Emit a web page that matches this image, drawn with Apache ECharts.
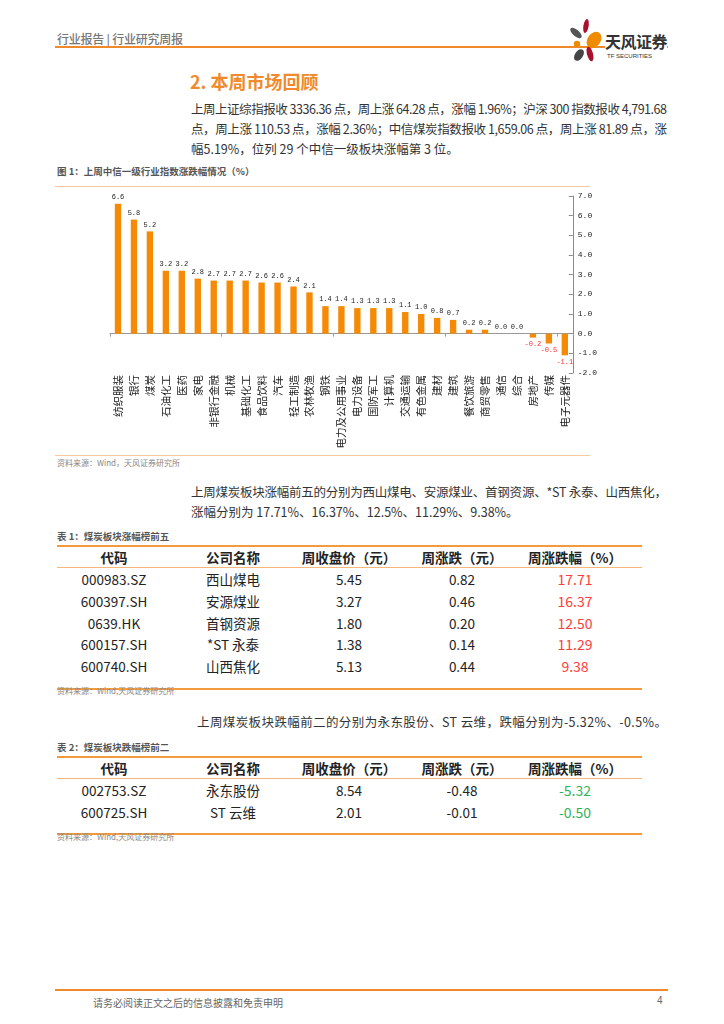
<!DOCTYPE html>
<html><head><meta charset="utf-8">
<script src="https://cdn.jsdelivr.net/npm/echarts@6/dist/echarts.min.js"></script>
<style>
html,body{margin:0;padding:0;background:#fff}
body{width:724px;height:1024px;position:relative;overflow:hidden;font-family:"Noto Sans CJK SC",sans-serif;color:#333}
.a{position:absolute;white-space:nowrap}
.fit{display:inline-block;white-space:nowrap}
.hl{position:absolute;height:0}
</style></head>
<body>
<script>
// ---------- chart data ----------
const categories = ["纺织服装","银行","煤炭","石油化工","医药","家电","非银行金融","机械","基础化工","食品饮料","汽车","轻工制造","农林牧渔","钢铁","电力及公用事业","电力设备","国防军工","计算机","交通运输","有色金属","建材","建筑","餐饮旅游","商贸零售","通信","综合","房地产","传媒","电子元器件"];
const weeklyChange = [6.6,5.8,5.2,3.2,3.2,2.8,2.7,2.7,2.7,2.6,2.6,2.4,2.1,1.4,1.4,1.3,1.3,1.3,1.1,1.0,0.8,0.7,0.2,0.2,0.0,0.0,-0.2,-0.5,-1.1];
const yTickMin = -2, yTickMax = 7, yTickStep = 1;

// ---------- table data ----------
const tableHeader = ["代码","公司名称","周收盘价（元）","周涨跌（元）","周涨跌幅（%）"];
const gainCodes = ["000983.SZ","600397.SH","0639.HK","600157.SH","600740.SH"];
const gainNames = ["西山煤电","安源煤业","首钢资源","*ST 永泰","山西焦化"];
const gainClose = ["5.45","3.27","1.80","1.38","5.13"];
const gainChg = ["0.82","0.46","0.20","0.14","0.44"];
const gainPct = ["17.71","16.37","12.50","11.29","9.38"];
const lossCodes = ["002753.SZ","600725.SH"];
const lossNames = ["永东股份","ST 云维"];
const lossClose = ["8.54","2.01"];
const lossChg = ["-0.48","-0.01"];
const lossPct = ["-5.32","-0.50"];
</script>

<!-- header -->
<div class="a" style="left:57px;top:30px;font-size:12px;color:#777;font-weight:500"><span class="fit" data-w="126">行业报告 | 行业研究周报</span></div>
<div class="hl" style="left:55px;top:46px;width:613px;border-top:2px solid #F0892A"></div>
<svg class="a" style="left:566px;top:18px" width="40" height="46" viewBox="0 0 40 46">
  <ellipse cx="20" cy="8" rx="2.6" ry="7" fill="#A8102E" transform="rotate(10 20 8)"/>
  <ellipse cx="10" cy="15" rx="3.2" ry="7" fill="#555" transform="rotate(-50 10 15)"/>
  <ellipse cx="28" cy="22" rx="6.5" ry="9" fill="#F08A00" transform="rotate(35 28 22)"/>
  <circle cx="11" cy="26" r="3.2" fill="#F08A00"/>
  <ellipse cx="13" cy="37" rx="4" ry="6.5" fill="#444" transform="rotate(35 13 37)"/>
  <ellipse cx="24" cy="36" rx="3" ry="7.5" fill="#A8102E" transform="rotate(-15 24 36)"/>
</svg>
<div class="a" style="left:605px;top:33px;font-size:16px;line-height:17px;font-weight:700;color:#333;letter-spacing:-0.5px;background:#fff">天风证券</div>
<div class="a" style="left:607px;top:53px;font-size:6px;line-height:7px;color:#333;font-family:'Liberation Sans'">TF SECURITIES</div>

<!-- section title -->
<div class="a" style="left:190px;top:68px;font-size:18px;font-weight:700;color:#F08A2C">2. 本周市场回顾</div>

<!-- paragraph 1 -->
<div class="a" style="left:191px;top:99px;font-size:12.5px;color:#333;line-height:20px">
  <div><span class="fit" data-w="476">上周上证综指报收 3336.36 点，周上涨 64.28 点，涨幅 1.96%；沪深 300 指数报收 4,791.68</span></div>
  <div><span class="fit" data-w="476">点，周上涨 110.53 点，涨幅 2.36%；中信煤炭指数报收 1,659.06 点，周上涨 81.89 点，涨</span></div>
  <div><span>幅5.19%，位列 29 个中信一级板块涨幅第 3 位。</span></div>
</div>

<!-- figure 1 -->
<div class="a" style="left:57px;top:164px;font-size:9.5px;font-weight:700;color:#555">图 1：上周中信一级行业指数涨跌幅情况（%）</div>
<div class="hl" style="left:55px;top:186px;width:535px;border-top:1.5px solid #F7C9A1"></div>
<div id="chart" class="a" style="left:55px;top:188px;width:545px;height:267px"></div>
<div class="hl" style="left:55px;top:455px;width:535px;border-top:1.5px solid #F7C9A1"></div>
<div class="a" style="left:57px;top:457px;font-size:8px;color:#888">资料来源：Wind，天风证券研究所</div>

<!-- paragraph 2 -->
<div class="a" style="left:191px;top:482px;font-size:12.5px;color:#333;line-height:20px">
  <div><span class="fit" data-w="476">上周煤炭板块涨幅前五的分别为西山煤电、安源煤业、首钢资源、*ST 永泰、山西焦化，</span></div>
  <div><span>涨幅分别为 17.71%、16.37%、12.5%、11.29%、9.38%。</span></div>
</div>

<div class="a" style="left:57px;top:529px;font-size:9.5px;font-weight:700;color:#555">表 1：煤炭板块涨幅榜前五</div>
<div id="t1"></div>
<div class="a" style="left:57px;top:685px;font-size:8px;color:#888">资料来源：Wind,天风证券研究所</div>

<!-- paragraph 3 -->
<div class="a" style="left:197px;top:712px;font-size:12.5px;color:#333;line-height:20px"><span class="fit" data-w="470">上周煤炭板块跌幅前二的分别为永东股份、ST 云维，跌幅分别为-5.32%、-0.5%。</span></div>

<div class="a" style="left:57px;top:740px;font-size:9.5px;font-weight:700;color:#555">表 2：煤炭板块跌幅榜前二</div>
<div id="t2"></div>
<div class="a" style="left:57px;top:831px;font-size:8px;color:#888">资料来源：Wind,天风证券研究所</div>

<!-- footer -->
<div class="hl" style="left:55px;top:989px;width:613px;border-top:2px solid #F0892A"></div>
<div class="a" style="left:93px;top:995px;font-size:10px;color:#666">请务必阅读正文之后的信息披露和免责申明</div>
<div class="a" style="left:657px;top:995px;font-size:10px;color:#666;font-family:'Liberation Sans'">4</div>

<script>
// fit justified lines
document.querySelectorAll('.fit[data-w]').forEach(function(el){
  var target = +el.getAttribute('data-w');
  var w = el.getBoundingClientRect().width;
  var n = el.textContent.length;
  if (n > 1) el.style.letterSpacing = ((target - w) / (n - 1)) + 'px';
});

// tables
const colCenters = [114, 233, 349, 462, 575];
function buildTable(id, top, rows, pctColor){
  const host = document.getElementById(id);
  let html = '';
  const left = 57, width = 585;
  html += '<div class="hl" style="left:'+left+'px;top:'+top+'px;width:'+width+'px;border-top:2px solid #F39A3C"></div>';
  const hy = top + 12;
  tableHeader.forEach(function(h,i){
    html += '<div class="a" style="left:'+(colCenters[i]-80)+'px;width:160px;text-align:center;top:'+(hy-10)+'px;font-size:13.5px;font-weight:700;color:#222;line-height:20px">'+h+'</div>';
  });
  const lineY = top + 22;
  html += '<div class="hl" style="left:'+left+'px;top:'+lineY+'px;width:'+width+'px;border-top:1.5px solid #F7B77A"></div>';
  const rowH = 21.8;
  rows.forEach(function(r,ri){
    const cy = lineY + 12 + ri*rowH;
    r.forEach(function(c,ci){
      let style = 'font-size:13.5px;color:#222;font-family:"Liberation Mono","Noto Sans CJK SC",monospace';
      if (ci===1) style = 'font-size:13.5px;color:#222;font-family:"Noto Sans CJK SC";letter-spacing:1px';
      if (ci===4) style = 'font-size:14px;color:'+pctColor+';font-family:"Liberation Sans"';
      html += '<div class="a" style="left:'+(colCenters[ci]-80)+'px;width:160px;text-align:center;top:'+(cy-10)+'px;line-height:20px;'+style+'">'+c+'</div>';
    });
  });
  const by = lineY + 12 + rows.length*rowH - 0.5;
  html += '<div class="hl" style="left:'+left+'px;top:'+by+'px;width:'+width+'px;border-top:2px solid #F39A3C"></div>';
  host.innerHTML = html;
}
buildTable('t1', 545, gainCodes.map(function(c,i){return [c,gainNames[i],gainClose[i],gainChg[i],gainPct[i]];}), '#FF3B3B');
buildTable('t2', 756, lossCodes.map(function(c,i){return [c,lossNames[i],lossClose[i],lossChg[i],lossPct[i]];}), '#2FB35A');

// chart
const chart = echarts.init(document.getElementById('chart'), null, {renderer:'canvas'});
const barData = weeklyChange.map(function(v){
  return v < 0 ? {value:v, label:{position:'bottom', color:'#FF2A2A'}} : {value:v};
});
chart.setOption({
  animation:false,
  grid:{left:55, right:23, top:8, bottom:82},
  xAxis:[
    {type:'category', data:categories, position:'bottom',
     axisLine:{show:false, onZero:false}, axisTick:{show:false},
     axisLabel:{interval:0, rotate:90, margin:2, fontSize:10.5, color:'#222', fontFamily:'Noto Sans CJK SC'}},
    {type:'category', data:categories, position:'top',
     axisLine:{show:true, onZero:true, lineStyle:{color:'#9a9a9a', width:1}},
     axisTick:{show:true, inside:true, length:3, lineStyle:{color:'#9a9a9a'}},
     axisLabel:{show:false}}
  ],
  yAxis:{type:'value', position:'right', min:yTickMin, max:yTickMax, interval:yTickStep,
    axisLine:{show:true, lineStyle:{color:'#8a8a8a'}},
    axisTick:{show:true, inside:true, length:4, lineStyle:{color:'#8a8a8a'}},
    splitLine:{show:false},
    axisLabel:{margin:5, fontSize:8, color:'#222', fontFamily:'Liberation Mono', formatter:function(v){return v.toFixed(1);}}},
  series:[{type:'bar', xAxisIndex:0, data:barData, barWidth:'40%',
    itemStyle:{color:'#F58A07'},
    label:{show:true, position:'top', distance:3, fontSize:7, color:'#222', fontFamily:'Liberation Mono',
      formatter:function(p){return Number(p.value).toFixed(1);}}}]
});
</script>
</body></html>
